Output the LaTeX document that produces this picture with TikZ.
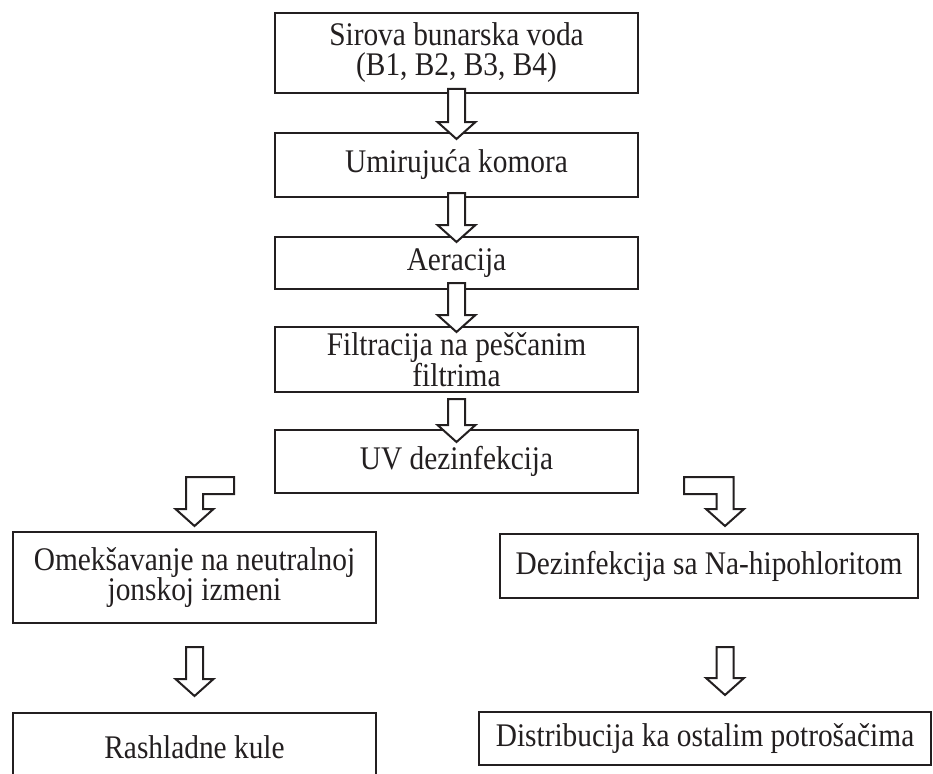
\documentclass[tikz,border=0pt]{standalone}
\usepackage{fontspec}
\setmainfont[FakeStretch=0.89]{Liberation Serif}
\usetikzlibrary{calc}

\definecolor{tinta}{HTML}{231F20}

\tikzset{
  kutija/.style={draw=tinta, text=tinta, line width=2pt, align=center, inner sep=0pt,
    font=\fontsize{33}{30}\selectfont},
  strelica/.style={draw=tinta, fill=white, line width=2pt},
}

% blok strelica na dole: #1 vrh drske, #2 vrh strelice
\newcommand{\dolestrelica}[2]{%
  \draw[strelica] ($(#1)+(-8.5,0)$) -- ($(#2)+(-8.5,-17)$) -- ($(#2)+(-19,-17)$) -- (#2)
    -- ($(#2)+(19,-17)$) -- ($(#2)+(8.5,-17)$) -- ($(#1)+(8.5,0)$) -- cycle;}

\begin{document}
\begin{tikzpicture}[x=1pt, y=-1pt]
\clip (0,0) rectangle (933,773);

% Srednja kolona
\node[kutija, minimum width=363pt, minimum height=80pt] (sirova) at (456.5,53) {Sirova bunarska voda\\(B1, B2, B3, B4)};
\node[kutija, minimum width=363pt, minimum height=64pt] (umir) at (456.5,165) {Umirujuća komora};
\node[kutija, minimum width=363pt, minimum height=52pt] (aer) at (456.5,263) {Aeracija};
\node[kutija, minimum width=363pt, minimum height=65pt] (filt) at (456.5,359.5) {Filtracija na peščanim\\filtrima};
\node[kutija, minimum width=363pt, minimum height=63pt] (uv) at (456.5,461.5) {UV dezinfekcija};

% Leva grana
\node[kutija, minimum width=363pt, minimum height=91pt] (omek) at (194.5,577.5) {Omekšavanje na neutralnoj\\jonskoj izmeni};
\node[kutija, minimum width=363pt, minimum height=68pt] (rash) at (194.5,747) {Rashladne kule};

% Desna grana
\node[kutija, minimum width=418pt, minimum height=64pt] (dez) at (709,566) {Dezinfekcija sa Na-hipohloritom};
\node[kutija, minimum width=452pt, minimum height=53pt] (distr) at (705,738.5) {Distribucija ka ostalim potrošačima};

% Strelice izmedju koraka
\dolestrelica{[yshift=5pt]sirova.south}{[yshift=-7pt]umir.north}
\dolestrelica{[yshift=5pt]umir.south}{[yshift=-6pt]aer.north}
\dolestrelica{[yshift=7pt]aer.south}{[yshift=-6pt]filt.north}
\dolestrelica{[yshift=-6pt]filt.south}{[yshift=-13pt]uv.north}

% Savijene strelice posle UV dezinfekcije
\coordinate (lk) at ([xshift=-40pt]uv.south west);
\coordinate (lv) at ([yshift=5pt]omek.north);
\draw[strelica] ($(lk)+(0,-17)$) -- ($(lv |- lk)+(-8.5,-17)$) -- ($(lv)+(-8.5,-17)$) -- ($(lv)+(-19,-17)$)
  -- (lv) -- ($(lv)+(19,-17)$) -- ($(lv)+(8.5,-17)$) -- ($(lv |- lk)+(8.5,0)$) -- (lk) -- cycle;

\coordinate (dk) at ([xshift=45pt]uv.south east);
\coordinate (dv) at ([xshift=16pt,yshift=7pt]dez.north);
\draw[strelica] ($(dk)+(0,-17)$) -- ($(dv |- dk)+(8.5,-17)$) -- ($(dv)+(8.5,-17)$) -- ($(dv)+(19,-17)$)
  -- (dv) -- ($(dv)+(-19,-17)$) -- ($(dv)+(-8.5,-17)$) -- ($(dv |- dk)+(-8.5,0)$) -- (dk) -- cycle;

% Donje strelice
\dolestrelica{[yshift=-23pt]omek.south}{[yshift=16pt]rash.north}
\dolestrelica{[xshift=16pt,yshift=-48pt]dez.south}{[xshift=20pt,yshift=16pt]distr.north}

\end{tikzpicture}
\end{document}
